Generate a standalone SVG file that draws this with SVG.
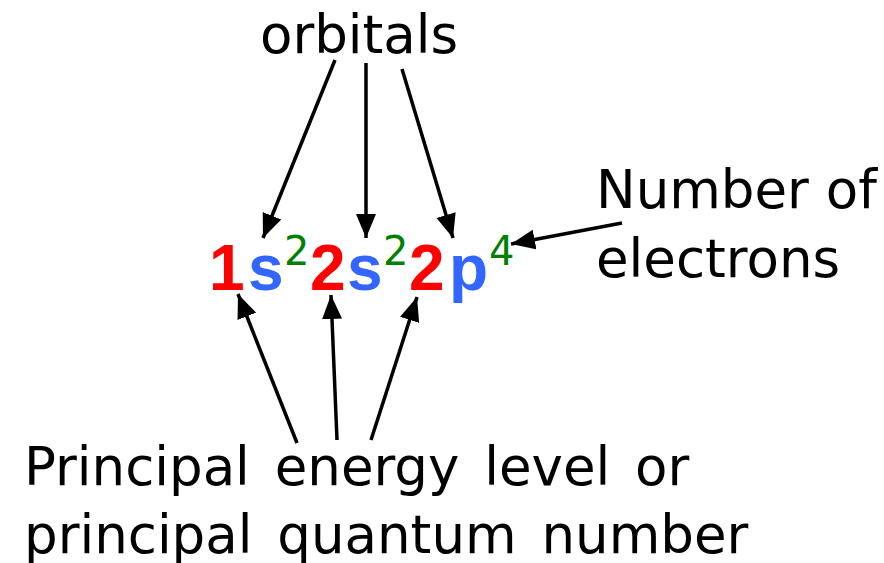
<svg xmlns="http://www.w3.org/2000/svg" width="884" height="563" viewBox="0 0 884 563">
<style>
.lbl{font-family:"DejaVu Sans",Verdana,sans-serif;font-size:53px;fill:#000}
.ws{word-spacing:8px}
.big{font-family:"Liberation Sans",Arial,sans-serif;font-size:64px;font-weight:bold}
.sup{font-family:"DejaVu Sans",Verdana,sans-serif;font-size:40px;fill:#008000}
.r{fill:#ff0000}.b{fill:#3366ff}
.arr{stroke:#000;stroke-width:3.5;fill:none;marker-end:url(#ah)}
</style>
<defs>
<marker id="ah" markerUnits="userSpaceOnUse" markerWidth="26" markerHeight="22" refX="24" refY="11" orient="auto" viewBox="0 0 26 22">
<path d="M0,1 L24,11 L0,21 z" fill="#000"/>
</marker>
</defs>
<rect width="884" height="563" fill="#fff"/>
<g id="orbitals"><text class="lbl" x="260" y="53">orbitals</text></g>
<g id="electrons"><text class="lbl" x="596" y="208">Number of</text><text class="lbl" x="596" y="277">electrons</text></g>
<g id="principal"><text class="lbl ws" x="24" y="485">Principal energy level or</text><text class="lbl ws" x="24" y="553">principal quantum number</text></g>
<g id="formula">
<text class="big r" x="209" y="290">1</text>
<text class="big b" x="248" y="290">s</text>
<text class="sup" x="284" y="265">2</text>
<text class="big r" x="310" y="290">2</text>
<text class="big b" x="347" y="290">s</text>
<text class="sup" x="383" y="265">2</text>
<text class="big r" x="409" y="290">2</text>
<text class="big b" x="449" y="290">p</text>
<text class="sup" x="489" y="265">4</text>
</g>
<g id="connectors">
<line class="arr" x1="335" y1="60" x2="263" y2="238"/>
<line class="arr" x1="366" y1="63" x2="366" y2="238"/>
<line class="arr" x1="402" y1="69" x2="453" y2="238"/>
<line class="arr" x1="622" y1="223" x2="511" y2="244"/>
<line class="arr" x1="297" y1="443" x2="238" y2="294"/>
<line class="arr" x1="337" y1="440" x2="331" y2="295"/>
<line class="arr" x1="371" y1="440" x2="417" y2="297"/>
</g>
</svg>
